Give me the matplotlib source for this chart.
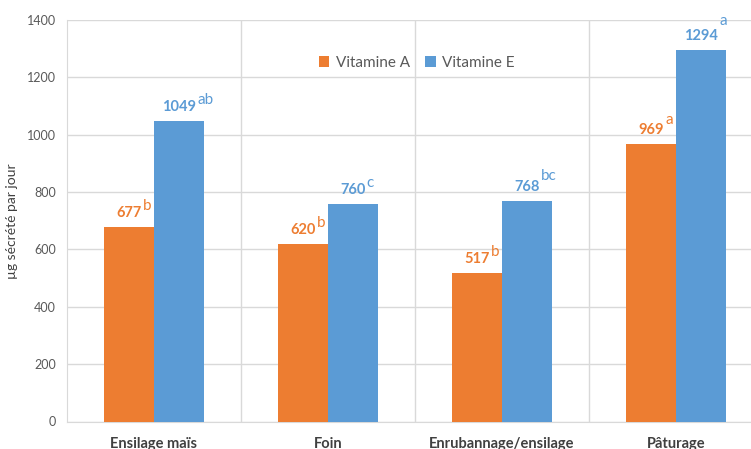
import matplotlib
matplotlib.use("Agg")
import matplotlib.pyplot as plt
import numpy as np

plt.rcParams['font.family'] = ['Lato', 'DejaVu Sans']

categories = ["Ensilage maïs", "Foin", "Enrubannage/ensilage", "Pâturage"]
vit_a = [677, 620, 517, 969]
vit_e = [1049, 760, 768, 1294]
sig_a = ["b", "b", "b", "a"]
sig_e = ["ab", "c", "bc", "a"]
yticks = [0, 200, 400, 600, 800, 1000, 1200, 1400]

ORANGE = "#ED7D31"
BLUE = "#5B9BD5"
GRID = "#D9D9D9"

fig = plt.figure(figsize=(7.51, 4.49), dpi=100)
ax = fig.add_axes([67/751, 1-421.5/449, (763-67)/751, (421.5-20)/449])

x = np.arange(len(categories))
w = 0.285
ba = ax.bar(x - w/2, vit_a, w, color=ORANGE, label="Vitamine A", zorder=3)
be = ax.bar(x + w/2, vit_e, w, color=BLUE, label="Vitamine E", zorder=3)

ax.set_xlim(-0.5, len(categories) - 0.5)
ax.set_ylim(0, 1400)
ax.set_yticks(yticks)
ax.set_yticklabels([str(t) for t in yticks], fontsize=9, color="#595959")
ax.set_xticks(x)
ax.set_xticklabels(categories, fontsize=10.5, fontweight="bold", color="#404040")
ax.tick_params(axis='both', length=0)
ax.tick_params(axis='x', pad=11)
ax.tick_params(axis='y', pad=8)

ax.yaxis.grid(True, color=GRID, linewidth=1, zorder=0)
for b in np.arange(0.5, len(categories) - 0.5, 1):
    ax.axvline(b, color=GRID, linewidth=1, zorder=0)
for s in ["top", "right"]:
    ax.spines[s].set_visible(False)
ax.spines["left"].set_color(GRID)
ax.spines["bottom"].set_color(GRID)

ax.set_ylabel("µg sécrété par jour", fontsize=10, color="#404040", labelpad=6)

sup_raise_a = [5, 5, 5, 7]
sup_raise_e = [5, 5, 8, 11]

fig.canvas.draw()
renderer = fig.canvas.get_renderer()

def label(bars, vals, sigs, raises, color):
    for rect, v, s, r in zip(bars, vals, sigs, raises):
        cx = rect.get_x() + rect.get_width()/2
        t = ax.annotate(str(v), (cx, v), xytext=(0, 5), textcoords="offset points",
                        ha="center", va="bottom", fontsize=10.5, fontweight="bold",
                        color=color, zorder=5)
        fig.canvas.draw()
        bb = t.get_window_extent(renderer)
        xd, _ = ax.transData.inverted().transform((bb.x1, bb.y0))
        ax.annotate(s, (xd, v), xytext=(1, 5 + r), textcoords="offset points",
                    ha="left", va="bottom", fontsize=11, color=color, zorder=5)

label(ba, vit_a, sig_a, sup_raise_a, ORANGE)
label(be, vit_e, sig_e, sup_raise_e, BLUE)

leg = ax.legend(loc="upper left", bbox_to_anchor=(305/751, 1-42/449), bbox_transform=fig.transFigure,
                ncol=2, frameon=False, fontsize=11, handlelength=0.7, handleheight=0.7,
                handletextpad=0.4, columnspacing=1.0)
for t in leg.get_texts():
    t.set_color("#595959")

fig.savefig("out.png", dpi=100)
